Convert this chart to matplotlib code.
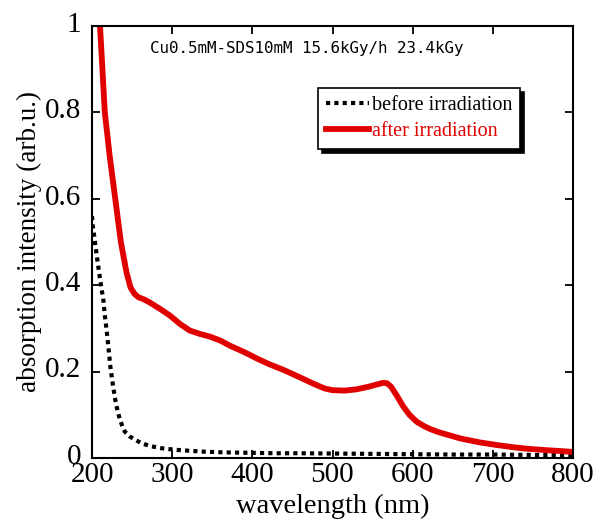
import numpy as np
import matplotlib.pyplot as plt
from matplotlib.transforms import ScaledTranslation

# wavelength (nm) / absorbance
wl_after = [207, 210, 213, 216, 222, 229, 236, 243, 248, 253, 258, 265, 272, 285, 297,
            310, 322, 335, 347, 360, 372, 390, 406, 420, 440, 459, 475, 490, 500,
            515, 530, 545, 555, 563, 568, 573, 580, 588, 596, 605, 614, 622, 632,
            643, 660, 684, 705, 725, 745, 768, 785, 800]
abs_after = [1.04, 1.0, 0.90, 0.80, 0.70, 0.60, 0.50, 0.43, 0.395, 0.38, 0.372, 0.367,
             0.36, 0.345, 0.33, 0.31, 0.295, 0.287, 0.281, 0.272, 0.26, 0.245, 0.23,
             0.218, 0.203, 0.187, 0.173, 0.161, 0.157, 0.156, 0.159, 0.165, 0.17,
             0.174, 0.173, 0.165, 0.145, 0.12, 0.1, 0.084, 0.074, 0.067, 0.06, 0.054,
             0.045, 0.036, 0.03, 0.025, 0.021, 0.018, 0.016, 0.014]

wl_before = [200, 201, 203, 204, 207, 210, 212, 214, 216, 218, 220, 223, 226, 229, 232,
             235, 238, 241, 247, 254, 262, 272, 285, 304, 335, 365, 397, 430, 459,
             520, 584, 650, 700, 750, 800]
abs_before = [0.56, 0.537, 0.51, 0.495, 0.454, 0.415, 0.39, 0.369, 0.33, 0.30, 0.265,
              0.21, 0.17, 0.135, 0.108, 0.088, 0.073, 0.061, 0.05, 0.042, 0.034, 0.028,
              0.023, 0.019, 0.015, 0.013, 0.012, 0.011, 0.011, 0.01, 0.009, 0.008,
              0.008, 0.007, 0.007]

xticks = [200, 300, 400, 500, 600, 700, 800]
yticks = [0, 0.2, 0.4, 0.6, 0.8, 1.0]
ylabels = ['0', '0.2', '0.4', '0.6', '0.8', '1']

plt.rcParams['font.family'] = ['Liberation Serif', 'DejaVu Serif']

fig = plt.figure(figsize=(5.95, 5.27), dpi=100)
ax = fig.add_axes([92/595, 69/527, 481/595, 432/527])

ax.plot(wl_before, abs_before, color='black', lw=3, linestyle=(0, (1, 1)),
        dash_capstyle='butt', label='before irradiation')
ax.plot(wl_after, abs_after, color='#e00000', lw=4.2, label='after irradiation')

ax.set_xlim(200, 800)
ax.set_ylim(0, 1)
ax.set_xticks(xticks)
ax.set_yticks(yticks)
ax.set_yticklabels(ylabels)
ax.tick_params(direction='in', top=True, right=True, length=6, width=1.3,
               labelsize=21)
ax.tick_params(axis='y', pad=8)
ax.tick_params(axis='x', pad=3)
for lab in ax.get_yticklabels():
    lab.set_transform(lab.get_transform() + ScaledTranslation(0, 3/72, fig.dpi_scale_trans))
for s in ax.spines.values():
    s.set_linewidth(1.5)

ax.set_xlabel('wavelength (nm)', fontsize=20.5, labelpad=4)
ax.set_ylabel('absorption intensity (arb.u.)', fontsize=19.5, labelpad=2)

ax.text(272, 0.947, 'Cu0.5mM-SDS10mM 15.6kGy/h 23.4kGy', family='DejaVu Sans Mono',
        fontsize=11.4, va='center', ha='left')

leg = ax.legend(loc='upper right', bbox_to_anchor=(0.89, 0.856), fontsize=14.5,
                frameon=True, fancybox=False, edgecolor='black', framealpha=1,
                shadow={'color': 'black', 'alpha': 1, 'ox': 3, 'oy': -3},
                handlelength=2.1, handletextpad=0.15, borderpad=0.4,
                labelspacing=0.32, borderaxespad=0)
leg.get_frame().set_linewidth(1.2)
leg.get_texts()[1].set_color('#e00000')

fig.savefig('out.png', dpi=100)
